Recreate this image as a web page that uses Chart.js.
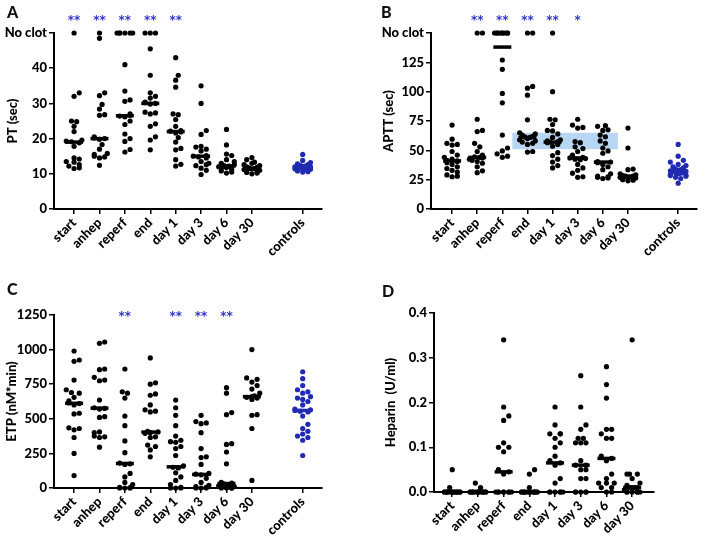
<!DOCTYPE html>
<html>
<head>
<meta charset="utf-8">
<script src="https://cdn.jsdelivr.net/npm/chart.js@4.4.1/dist/chart.umd.min.js"></script>
<style>
body{margin:0;background:#fff;}
#wrap{position:relative;width:709px;height:546px;overflow:hidden;}
.panel{position:absolute;}
.letter{position:absolute;font:900 16px Lato, sans-serif;color:#111;}
</style>
</head>
<body>
<div id="wrap">
	<div class="panel" style="left:0;top:0;width:354px;height:273px"><canvas id="chartA"></canvas></div>
	<div class="panel" style="left:354px;top:0;width:355px;height:273px"><canvas id="chartB"></canvas></div>
	<div class="panel" style="left:0;top:273px;width:354px;height:273px"><canvas id="chartC"></canvas></div>
	<div class="panel" style="left:354px;top:273px;width:355px;height:273px"><canvas id="chartD"></canvas></div>
	<div class="letter" style="left:7px;top:2px">A</div>
	<div class="letter" style="left:381px;top:2px">B</div>
	<div class="letter" style="left:7px;top:279px">C</div>
	<div class="letter" style="left:382px;top:281px">D</div>
</div>
<script>
var categories = ['start', 'anhep', 'reperf', 'end', 'day 1', 'day 3', 'day 6', 'day 30'];
var controlLabel = 'controls';

// PT (sec), 50 = no clot
var ptGroups = [
	[50, 33, 32, 25, 24.8, 23.5, 22, 19.6, 19.3, 19.1, 18.8, 17.8, 14.5, 14.2, 13.5, 13.3, 12.6, 12.2, 11.7, 11.5],
	[50, 48.5, 33, 32.2, 29.7, 28.4, 26.8, 26.6, 20.5, 20.2, 20, 19.8, 18.3, 17, 15.8, 15.5, 15, 14.8, 14.5, 12.4],
	[50, 50, 50, 50, 50, 50, 41, 33.5, 31, 30.6, 27, 26.6, 26.4, 26.2, 25, 24, 21.3, 20, 19.2, 16.9, 16.2],
	[50, 50, 50, 45.5, 38, 33, 32, 31.5, 30.4, 30.2, 30, 29.8, 27.5, 27.3, 27, 24.2, 23.5, 20.5, 19.6, 16.8],
	[43, 38, 36.6, 34.6, 27, 26.8, 25.4, 23.5, 22.3, 22.1, 21.9, 21.6, 20.3, 19, 17.2, 16.8, 14, 12.7, 12.2],
	[35, 30, 22.3, 21.2, 17.8, 17.6, 17, 16.5, 15.2, 15, 14.8, 14.5, 13.5, 13, 12.6, 12.3, 11.6, 11, 9.8],
	[22.6, 18.2, 15.6, 15.2, 14, 13.5, 13, 12.6, 12.3, 12.2, 12, 12, 11.8, 11.5, 11.2, 10.8, 10.5, 10.2],
	[14.6, 14, 13.3, 13, 12.6, 12.3, 12, 11.8, 11.6, 11.5, 11.4, 11.2, 11, 10.8, 10.6, 10.4, 10.2, 10]
];
var ptControls = [15.5, 13.8, 13.2, 12.8, 12.6, 12.4, 12.2, 12.1, 12, 12, 11.9, 11.8, 11.7, 11.6, 11.5, 11.4, 11.3, 11.2, 11, 10.8, 10.6, 10.5];
var ptMedians = [19, 20, 26.5, 30, 22, 15, 12.2, 11.5];
var ptControlMedian = 12;
var ptStars = ['**', '**', '**', '**', '**', '', '', ''];

// APTT (sec), 150 = no clot
var apttGroups = [
	[71.5, 59.5, 56, 55, 54.5, 49, 46, 44, 42.5, 41.5, 41, 40.5, 39.5, 38, 36, 34.5, 33, 31.5, 29, 28, 27.5],
	[150, 150, 76.5, 67, 66, 56, 53, 49, 46, 44.5, 44, 43.5, 42.5, 41.5, 40.5, 39, 36, 32.5, 31],
	[150, 150, 150, 150, 150, 150, 150, 150, 150, 127, 119, 98.5, 90.5, 63, 52, 49.5, 47, 45, 44],
	[150, 150, 104.5, 103, 97, 76, 65, 64, 63, 62, 61.5, 61, 60, 59, 58, 57, 56, 55, 49, 48.5],
	[150, 100, 76.5, 76, 72, 67, 66.5, 64, 61, 59, 58, 57.5, 57, 56.5, 55, 53.5, 48, 45.5, 42.5, 40, 37, 35],
	[76.5, 71.5, 69.5, 69, 57.5, 56.5, 53, 51.5, 49, 46, 44, 43.5, 43, 42.5, 42, 38, 35, 33, 30.5, 27.5, 27],
	[71, 70.5, 67.5, 67, 63, 61.5, 58, 56, 52, 49.5, 47.5, 40.5, 40, 39.5, 38, 36, 33.5, 30, 28, 27.5, 27, 26.5, 26],
	[69, 52, 34, 33.5, 30, 29, 28.5, 28, 28, 27.5, 27.5, 27, 26.5, 26, 25.5, 25, 24.5, 24]
];
var apttControls = [55, 45, 41.5, 40, 38, 37, 36, 35, 34, 33.5, 33, 32.5, 32, 32, 31.5, 31, 30.5, 30, 29.5, 29, 28.5, 28, 27, 26, 22];
var apttMedians = [41, 44, 138, 61, 57, 43.5, 40, 27.5];
var apttControlMedian = 31.5;
var apttStars = ['', '**', '**', '**', '**', '*', '', ''];
var apttNormalRange = [51, 65];

// ETP (nM*min)
var etpGroups = [
	[990, 925, 915, 780, 710, 690, 685, 655, 630, 615, 610, 600, 540, 535, 435, 430, 420, 365, 250, 90],
	[1055, 1045, 860, 855, 800, 780, 775, 635, 580, 575, 570, 515, 510, 405, 400, 375, 370, 365, 295],
	[860, 695, 685, 650, 520, 450, 340, 255, 180, 175, 170, 105, 80, 40, 25, 5, 2, 0, 0, 0],
	[940, 760, 750, 680, 670, 600, 565, 555, 550, 410, 405, 400, 395, 370, 365, 310, 300, 275, 225],
	[635, 580, 525, 450, 375, 345, 335, 330, 300, 285, 235, 160, 150, 145, 110, 80, 55, 25, 5, 0, 0, 0],
	[525, 480, 470, 465, 400, 285, 225, 220, 170, 105, 100, 95, 70, 40, 20, 10, 5, 0, 0, 0],
	[725, 685, 545, 530, 320, 315, 260, 175, 40, 35, 30, 25, 20, 15, 10, 5, 0, 0, 0, 0],
	[1000, 795, 785, 765, 740, 715, 685, 665, 660, 655, 650, 640, 530, 525, 430, 55]
];
var etpControls = [840, 790, 740, 710, 695, 685, 660, 650, 640, 625, 600, 570, 565, 560, 555, 550, 520, 460, 430, 410, 390, 375, 365, 345, 235];
var etpMedians = [612, 577, 177, 404, 153, 98, 32, 660];
var etpControlMedian = 560;
var etpStars = ['', '', '**', '', '**', '**', '**', ''];

// heparin (U/ml)
var hepGroups = [
	[0.05, 0.01, 0, 0, 0, 0, 0, 0, 0, 0, 0, 0, 0, 0, 0, 0, 0, 0],
	[0.02, 0.01, 0, 0, 0, 0, 0, 0, 0, 0, 0, 0, 0, 0, 0, 0, 0],
	[0.34, 0.19, 0.17, 0.16, 0.11, 0.10, 0.10, 0.09, 0.05, 0.045, 0.04, 0, 0, 0, 0, 0, 0, 0, 0],
	[0.05, 0.04, 0.01, 0, 0, 0, 0, 0, 0, 0, 0, 0, 0, 0, 0, 0, 0],
	[0.19, 0.15, 0.13, 0.13, 0.13, 0.12, 0.11, 0.10, 0.08, 0.07, 0.065, 0.06, 0.03, 0.02, 0, 0, 0, 0, 0, 0],
	[0.26, 0.19, 0.15, 0.14, 0.12, 0.12, 0.11, 0.11, 0.11, 0.07, 0.06, 0.06, 0.05, 0.05, 0.03, 0.03, 0, 0, 0, 0, 0],
	[0.28, 0.24, 0.21, 0.14, 0.14, 0.13, 0.12, 0.12, 0.08, 0.075, 0.07, 0.04, 0.03, 0.02, 0.02, 0.02, 0.01, 0.01, 0, 0],
	[0.34, 0.04, 0.04, 0.04, 0.03, 0.02, 0.015, 0.01, 0.01, 0.01, 0.01, 0.005, 0, 0, 0, 0, 0, 0]
];
var hepMedians = [0, 0, 0.045, 0, 0.065, 0.06, 0.075, 0.01];

var FONT = 'Lato, "Open Sans", sans-serif';
var WEIGHT = '900';
var BLACK = '#000';
var BLUE = '#1f2bb0';
var STAR_BLUE = '#3535cc';
var CONTROL_X = 9;

// simple beeswarm: returns x offsets (in pixels) for each value
function swarm(vals, pxY){
	var d = 5.2, maxOff = 9;
	var cands = [0];
	for(var k = 1; k * d / 2 <= maxOff; k++){
		cands.push(k * d / 2, -k * d / 2);
	}
	var order = vals.map(function(v, i){ return i; });
	order.sort(function(a, b){ return vals[a] - vals[b]; });
	var placed = [], offs = [];
	order.forEach(function(i){
		var y = vals[i] * pxY, best = null;
		for(var c = 0; c < cands.length; c++){
			var ok = placed.every(function(p){
				var dx = p.x - cands[c], dy = p.y - y;
				return dx * dx + dy * dy >= d * d;
			});
			if(ok){ best = cands[c]; break; }
		}
		if(best === null){
			best = cands[placed.length % cands.length];
		}
		placed.push({x: best, y: y});
		offs[i] = best;
	});
	return offs;
}

function buildPanel(cfg){
	var dots = [], meds = [], ctrl = [], ctrlMed = [];
	cfg.groups.forEach(function(g, i){
		g.forEach(function(v){ dots.push({x: i, y: v, g: i}); });
		meds.push({x: i, y: cfg.medians[i]});
	});
	if(cfg.controls){
		cfg.controls.forEach(function(v){ ctrl.push({x: CONTROL_X, y: v, g: CONTROL_X}); });
		ctrlMed.push({x: CONTROL_X, y: cfg.controlMedian});
	}

	var tickValues = categories.map(function(c, i){ return i; });
	if(cfg.controls) tickValues.push(CONTROL_X);

	var marks = {
		id: 'marks',
		beforeDatasetsDraw: function(chart){
			if(!cfg.band) return;
			var xs = chart.scales.x, ys = chart.scales.y, ctx = chart.ctx;
			var x1 = xs.getPixelForValue(cfg.band.from), x2 = xs.getPixelForValue(cfg.band.to);
			var y1 = ys.getPixelForValue(cfg.band.range[1]), y2 = ys.getPixelForValue(cfg.band.range[0]);
			ctx.save();
			ctx.fillStyle = 'rgba(160,200,240,0.75)';
			ctx.fillRect(x1, y1, x2 - x1, y2 - y1);
			ctx.restore();
		},
		afterDraw: function(chart){
			if(!cfg.stars) return;
			var xs = chart.scales.x, ctx = chart.ctx;
			ctx.save();
			ctx.fillStyle = STAR_BLUE;
			ctx.font = 'bold 12px "DejaVu Sans", sans-serif';
			ctx.textAlign = 'center';
			ctx.textBaseline = 'middle';
			cfg.stars.forEach(function(s, i){
				if(s) ctx.fillText(s, xs.getPixelForValue(i), chart.chartArea.top + cfg.starOffset + 2);
			});
			ctx.restore();
		}
	};

	var chart = new Chart(document.getElementById(cfg.id), {
		type: 'scatter',
		data: {
			datasets: [
				{data: meds, pointStyle: 'line', pointRadius: 9, borderColor: BLACK, borderWidth: 3.5, clip: false},
				{data: ctrlMed, pointStyle: 'line', pointRadius: 9, borderColor: BLUE, borderWidth: 3.5, clip: false},
				{data: dots, pointRadius: 2.6, pointBorderWidth: 0, backgroundColor: BLACK, clip: false},
				{data: ctrl, pointRadius: 2.6, pointBorderWidth: 0, backgroundColor: BLUE, clip: false}
			]
		},
		options: {
			responsive: true,
			maintainAspectRatio: false,
			animation: false,
			events: [],
			layout: {padding: cfg.padding},
			plugins: {legend: {display: false}, tooltip: {enabled: false}},
			scales: {
				x: {
					type: 'linear',
					min: cfg.xMin,
					max: cfg.xMax,
					afterFit: function(s){ s.height = cfg.xHeight; },
					afterBuildTicks: function(s){
						s.ticks = tickValues.map(function(v){ return {value: v}; });
					},
					border: {display: true, color: BLACK, width: 2},
					grid: {display: true, drawOnChartArea: false, drawTicks: true, tickLength: 5, color: BLACK, lineWidth: 1.5},
					ticks: {
						autoSkip: false,
						minRotation: 45,
						maxRotation: 45,
						padding: 1,
						color: BLACK,
						font: {family: FONT, size: 13, weight: WEIGHT},
						callback: function(v){ return v === CONTROL_X ? controlLabel : categories[v]; }
					}
				},
				y: {
					min: cfg.yMin,
					max: cfg.yMax,
					afterFit: function(s){ s.width = cfg.yWidth; },
					border: {display: true, color: BLACK, width: 2},
					grid: {display: true, drawOnChartArea: false, drawTicks: true, tickLength: 5, color: BLACK, lineWidth: 1.5},
					title: {
						display: true,
						text: cfg.yTitle,
						color: BLACK,
						font: {family: FONT, size: 13, weight: WEIGHT},
						padding: {top: cfg.titlePad, bottom: 0}
					},
					ticks: {
						stepSize: cfg.yStep,
						padding: 2,
						color: BLACK,
						font: {family: FONT, size: 13, weight: WEIGHT},
						callback: cfg.yFormat
					}
				}
			}
		},
		plugins: [marks]
	});

	// spread the dots sideways, using the scale's pixel sizes
	var xs = chart.scales.x, ys = chart.scales.y;
	var pxX = xs.getPixelForValue(1) - xs.getPixelForValue(0);
	var pxY = (ys.getPixelForValue(cfg.yMin) - ys.getPixelForValue(cfg.yMax)) / (cfg.yMax - cfg.yMin);
	[dots, ctrl].forEach(function(list){
		var byGroup = {};
		list.forEach(function(p){ (byGroup[p.g] = byGroup[p.g] || []).push(p); });
		Object.keys(byGroup).forEach(function(g){
			var pts = byGroup[g];
			var offs = swarm(pts.map(function(p){ return p.y; }), pxY);
			pts.forEach(function(p, i){ p.x = p.g + offs[i] / pxX; });
		});
	});
	chart.update('none');
	return chart;
}

buildPanel({
	id: 'chartA', groups: ptGroups, medians: ptMedians, controls: ptControls, controlMedian: ptControlMedian,
	stars: ptStars, starOffset: -14,
	yMin: 0, yMax: 50, yStep: 10, yTitle: 'PT (sec)', titlePad: 5,
	yFormat: function(v){ return v === 50 ? 'No clot' : v; },
	xMin: -0.79, xMax: 9.76, yWidth: 54, xHeight: 64,
	padding: {top: 33, right: 32, left: 0, bottom: 0}
});

buildPanel({
	id: 'chartB', groups: apttGroups, medians: apttMedians, controls: apttControls, controlMedian: apttControlMedian,
	stars: apttStars, starOffset: -14,
	band: {from: 2.4, to: 6.6, range: apttNormalRange},
	yMin: 0, yMax: 150, yStep: 25, yTitle: 'APTT (sec)', titlePad: 27,
	yFormat: function(v){ return v === 150 ? 'No clot' : v; },
	xMin: -0.84, xMax: 9.73, yWidth: 77, xHeight: 64,
	padding: {top: 33, right: 7, left: 0, bottom: 0}
});

buildPanel({
	id: 'chartC', groups: etpGroups, medians: etpMedians, controls: etpControls, controlMedian: etpControlMedian,
	stars: etpStars, starOffset: 0,
	yMin: 0, yMax: 1250, yStep: 250, yTitle: 'ETP (nM*min)', titlePad: 4,
	yFormat: function(v){ return v; },
	xMin: -0.79, xMax: 9.76, yWidth: 54, xHeight: 58,
	padding: {top: 42, right: 32, left: 0, bottom: 0}
});

buildPanel({
	id: 'chartD', groups: hepGroups, medians: hepMedians,
	yMin: 0, yMax: 0.4, yStep: 0.1, yTitle: 'Heparin  (U/ml)', titlePad: 29,
	yFormat: function(v){ return v.toFixed(1); },
	xMin: -0.71, xMax: 7.85, yWidth: 80, xHeight: 54,
	padding: {top: 40, right: 55, left: 0, bottom: 0}
});
</script>
</body>
</html>
